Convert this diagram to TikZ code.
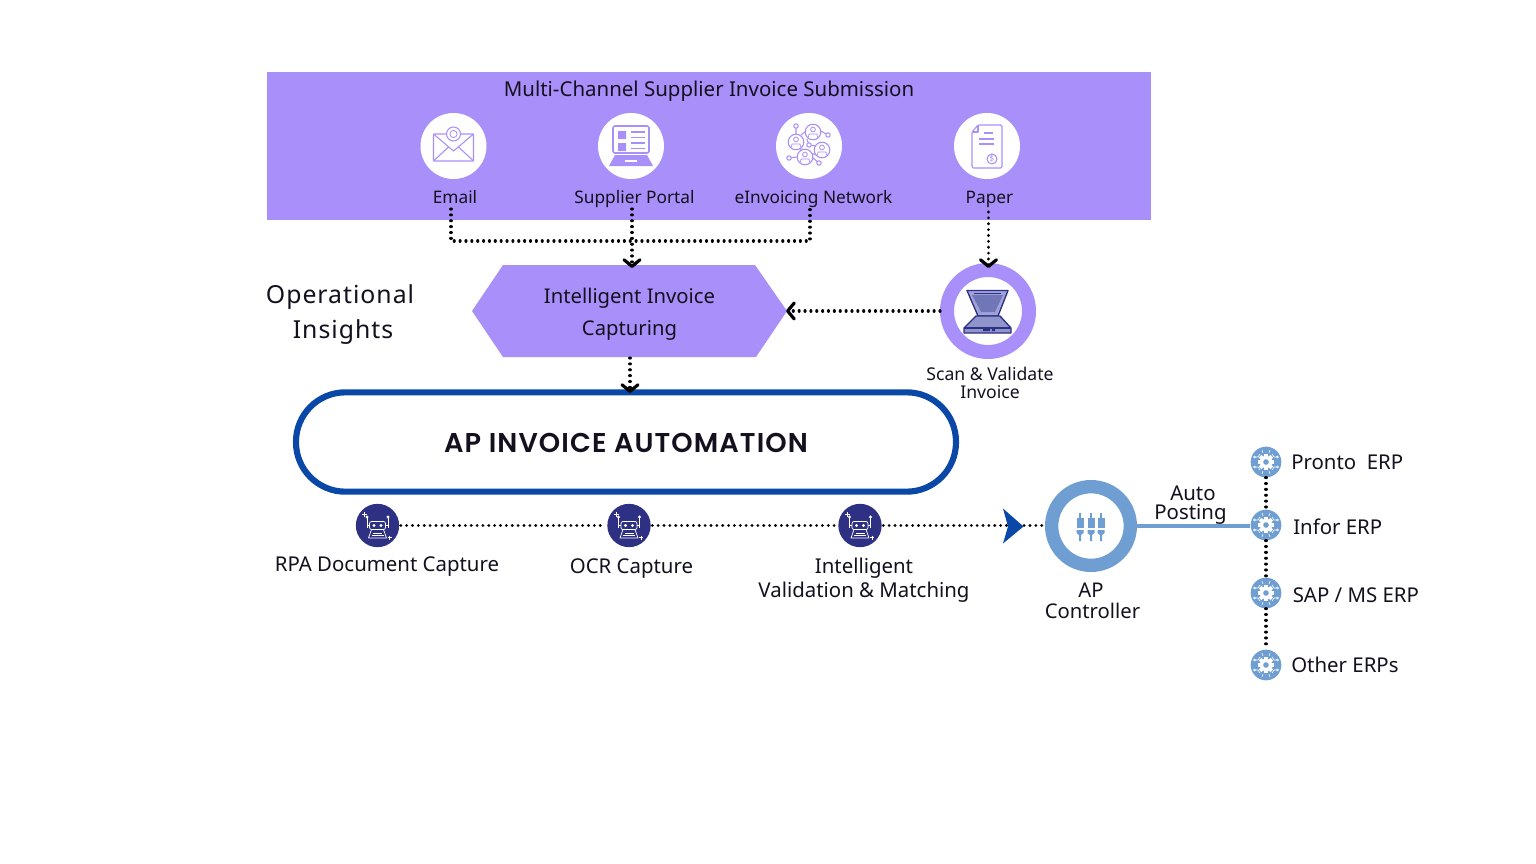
\documentclass[tikz,border=0pt]{standalone}
\usepackage{fontspec}
\setmainfont{Noto Sans}
\newfontfamily\titlefont[LetterSpace=4]{Poppins SemiBold}
\usetikzlibrary{arrows.meta,calc}
\definecolor{purp}{HTML}{A98FFA}
\definecolor{navy}{HTML}{2E3084}
\definecolor{ringblue}{HTML}{6F9FD2}
\definecolor{deepblue}{HTML}{0A48A8}
\definecolor{ink}{HTML}{14101E}
\definecolor{lidc}{HTML}{7076B8}
\definecolor{lidl}{HTML}{A0A3D8}
\definecolor{basec}{HTML}{9094CC}
\tikzset{
  x=0.75pt,y=-0.75pt,
  dotline/.style={draw=black,line width=2.3pt,line cap=round,dash pattern=on 0.05pt off 4.35pt},
  chev/.style={-{Straight Barb[length=5pt,width=12pt,line width=2.4pt,round]}},
  lbl/.style={text=ink,inner sep=0pt,text height=0.73em,text depth=0.2em,yshift=-3pt,font=\fontsize{12.95}{15}\selectfont},
  lblb/.style={lbl,font=\fontsize{15.3}{18}\selectfont},
  lblc/.style={lbl,font=\fontsize{15.2}{18}\selectfont},
  lblo/.style={lbl,yshift=-1pt,font=\fontsize{18.6}{26}\selectfont\addfontfeature{LetterSpace=4}},
  disc/.style={circle,fill=white,minimum size=49.5pt,inner sep=0pt},
  robotdisc/.style={circle,fill=navy,minimum size=32.5pt,inner sep=0pt},
  gearnode/.style={circle,fill=ringblue,minimum size=23pt,inner sep=0pt},
  ic/.style={draw=purp,line width=0.8pt,line join=round},
  pics/roboticon/.style={code={
    \begin{scope}[draw=white,line width=0.55pt,line join=round]
      \draw[rounded corners=1.5pt] (-8,-4) rectangle (8,4);
      \fill[white] (-3.5,0) circle (1.6) (3.5,0) circle (1.6);
      \draw (-10.5,2) -- (-10.5,-8) (10.5,2) -- (10.5,-8) (-10.5,0) -- (-8,0) (10.5,0) -- (8,0);
      \fill[white] (-10.5,-8.5) circle (1.7) (10.5,-8.5) circle (1.7);
      \draw (-9,12.5) -- (-6,4) -- (6,4) -- (9,12.5) -- cycle;
      \draw (-4.5,7.5) -- (4.5,7.5) (-6,10) -- (6,10);
      \draw (-13,-14) -- (-13,-9) (-15.5,-11.5) -- (-10.5,-11.5);
      \draw (12,10) -- (12,14) (10,12) -- (14,12);
    \end{scope}}},
  pics/gearicon/.style={code={
    \foreach \a in {0,45,...,315}{
      \fill[white,rotate=\a] (-1.8,-8.2) rectangle (1.8,-4);}
    \fill[white] (0,0) circle (6.2);
    \fill[ringblue] (0,0) circle (2.8);
    \begin{scope}[draw=white,line width=0.45pt]
      \draw (-11,-5) -- (-8,-5) -- (-6,-8) (11,-5) -- (8,-5) -- (6,-8);
      \draw (-11,5) -- (-8,5) -- (-6,8) (11,5) -- (8,5) -- (6,8);
      \draw (-4,-12) -- (-3,-9) (4,-12) -- (3,-9) (-4,12) -- (-3,9) (4,12) -- (3,9);
      \draw (-11.5,-5) circle (1) (11.5,-5) circle (1) (-11.5,5) circle (1) (11.5,5) circle (1);
    \end{scope}}},
}
\begin{document}
\begin{tikzpicture}
\useasboundingbox (0,0) rectangle (1536,864);
\fill[white] (0,0) rectangle (1536,864);

% top band
\fill[purp] (267,72) rectangle (1151,220);
\node[lbl,font=\fontsize{15.35}{18}\selectfont] (title) at (709,89) {Multi-Channel Supplier Invoice Submission};

\node[disc] (dEmail) at (453.5,146) {};
\node[disc] (dPortal) at (631,146) {};
\node[disc] (dNet) at (809,146) {};
\node[disc] (dPaper) at (987,146) {};

% envelope
\begin{scope}[shift={(453.5,146)}]
  \draw[ic,rounded corners=0.5pt] (-20,-12) -- (20,-12) -- (20,15) -- (-20,15) -- cycle;
  \draw[ic] (-20,-12) -- (0,5) -- (20,-12) (-20,15) -- (-5,1) (20,15) -- (5,1);
  \fill[white] (0,-12) circle (7.5);
  \draw[ic] (0,-12) circle (7);
  \draw[ic,line width=0.6pt] (0,-12) circle (3.6);
\end{scope}
% laptop
\begin{scope}[shift={(631,146)}]
  \draw[ic,line width=1.2pt,rounded corners=1.5pt] (-18,-20) rectangle (18,7);
  \fill[purp] (-13,-15) rectangle (-5,-7) (-13,-3) rectangle (-5,5);
  \draw[ic] (0,-14) -- (14,-14) (0,-8.5) -- (14,-8.5) (0,-3) -- (14,-3) (0,2.5) -- (14,2.5);
  \fill[purp] (-16,9) -- (16,9) -- (22,20) -- (-22,20) -- cycle;
  \draw[white,line width=0.9pt] (-6,15) -- (6,15);
\end{scope}
% network
\begin{scope}[shift={(0,0)}]
  \draw[ic] (796,126) -- (796,134) (821,131) -- (828,135) (807,139) -- (809,145) -- (816,146)
            (789,158) -- (797,157) (813,158) -- (819,163) (806,131) -- (801,135) (811,153) -- (816,155) (800,150) -- (803,149);
  \foreach \p in {(813,132),(796,142),(822,150),(805,157)}{
    \fill[white] \p circle (8.2);
    \draw[ic] \p circle (7.8);}
  \foreach \p/\q in {813/132,796/142,822/150,805/157}{
    \draw[ic,line width=0.6pt] (\p,\q-2.5) circle (2.4);
    \draw[ic,line width=0.6pt] (\p-4.5,\q+5) -- (\p-4,\q+2) -- (\p+4,\q+2) -- (\p+4.5,\q+5);}
  \foreach \p in {(796,126),(828,135),(809,145),(789,158),(819,163)}{
    \fill[white] \p circle (2.4);
    \draw[ic] \p circle (2.2);}
\end{scope}
% paper
\begin{scope}[shift={(987,146)}]
  \draw[ic,rounded corners=1pt] (-9,-21) -- (15,-21) -- (15,22) -- (-15,22) -- (-15,-14) -- cycle;
  \draw[ic] (-15,-14) -- (-9,-14) -- (-9,-21);
  \draw[ic] (-3,-13) -- (6,-13) (-8,-7) -- (7,-7) (-8,-2) -- (7,-2);
  \draw[ic] (5,13) circle (5);
  \node[text=purp,inner sep=0pt,font=\fontsize{6}{6}\selectfont] (dollar) at (5,13) {\$};
\end{scope}

\node[lbl] (lEmail) at (455,195.5) {Email};
\node[lbl] (lPortal) at (634.5,195.5) {Supplier Portal};
\node[lbl] (lNet) at (813.5,195.5) {eInvoicing Network};
\node[lbl] (lPaper) at (989.5,195.5) {Paper};

% hexagon
\fill[purp] (472,311) -- (503,265) -- (755,265) -- (787,311) -- (756,357) -- (503,357) -- cycle;
\node[minimum width=236pt,minimum height=69pt,inner sep=0pt] (hex) at (629.5,311) {};
\node[lblc] (hexa) at (629.5,295.5) {Intelligent Invoice};
\node[lblc] (hexb) at (629.5,328) {Capturing};

% operational insights
\node[lblo] (op1) at (340,295) {Operational};
\node[lblo] (op2) at (343,330) {Insights};

% scanner
\node[circle,draw=purp,line width=10.5pt,fill=white,minimum size=61.5pt,inner sep=0pt] (scan) at (988,311) {};
\begin{scope}[draw=navy,line width=1pt,line join=round]
  \filldraw[fill=lidl] (967,290.5) -- (1008,290.5) -- (998,316) -- (978,316) -- cycle;
  \fill[lidc] (972,295) -- (1003,295) -- (995,312) -- (981,312) -- cycle;
  \filldraw[fill=basec] (976,316) -- (1000,316) -- (1011,328) -- (1011,333) -- (964,333) -- (964,328) -- cycle;
  \draw (964,328) -- (1011,328);
  \fill[navy] (983,328.5) rectangle (990,331) (992,328.5) rectangle (995,331);
  \draw[line width=0.6pt] (974,293) -- (1001,293);
\end{scope}
\node[lbl,font=\fontsize{13.2}{15}\selectfont] (lScan) at (990,373) {Scan \& Validate};
\node[lbl,font=\fontsize{13.2}{15}\selectfont] (lScanb) at (990,391) {Invoice};

% pill
\node[draw=deepblue,fill=white,line width=4.6pt,minimum width=495pt,minimum height=74.5pt,rounded corners=37pt,inner sep=0pt] (pill) at (626,442) {};
\node[inner sep=0pt,text=ink,font=\fontsize{20.4}{24}\selectfont\titlefont] (pillText) at (626,443) {AP INVOICE AUTOMATION};

% robots
\node[robotdisc] (r1) at (377.5,525.5) {};
\node[robotdisc] (r2) at (629,525.5) {};
\node[robotdisc] (r3) at (860,525.5) {};
\pic at (377.5,525.5) {roboticon};
\pic at (629,525.5) {roboticon};
\pic at (860,525.5) {roboticon};
\node[lblb] (lr1) at (387,564) {RPA Document Capture};
\node[lblb] (lr2) at (631.5,566) {OCR Capture};
\node[lblb] (lr3) at (864,566) {Intelligent};
\node[lblb] (lr3b) at (864,590) {Validation \& Matching};

% controller
\node[circle,draw=ringblue,line width=10pt,fill=white,minimum size=59pt,inner sep=0pt] (ctrl) at (1091,526) {};
\begin{scope}[fill=ringblue]
  \foreach \x in {1080,1091,1101}{
    \fill (\x-1,513) rectangle (\x+1,518);
    \fill (\x-3.5,518) rectangle (\x+3.5,528);
    \fill (\x-3.5,530) -- (\x+3.5,530) -- (\x+3.5,533) -- (\x+1,535) -- (\x+1,541) -- (\x-1,541) -- (\x-1,535) -- (\x-3.5,533) -- cycle;}
\end{scope}
\node[lblc] (lCtrl) at (1091,590) {AP};
\node[lblc] (lCtrlb) at (1092.5,611) {Controller};

% ERP
\node[gearnode] (e1) at (1266,462) {};
\node[gearnode] (e2) at (1266,525) {};
\node[gearnode] (e3) at (1266,593) {};
\node[gearnode] (e4) at (1266,665) {};
\foreach \n in {e1,e2,e3,e4}{\pic at (\n) {gearicon};}
\node[lblb,anchor=west] (le1) at (1291,462) {Pronto\ \ ERP};
\node[lblb,anchor=west] (le2) at (1293,527) {Infor ERP};
\node[lblb,anchor=west] (le3) at (1292.5,595) {SAP / MS ERP};
\node[lblb,anchor=west] (le4) at (1291,665) {Other ERPs};
\node[lblb] (auto1) at (1193,493) {Auto};
\node[lblb] (auto2) at (1190.5,512) {Posting};

% connectors
\coordinate (emailOut) at (451,209);
\coordinate (portalOut) at (632,209);
\coordinate (netOut) at (810,209);
\coordinate (paperOut) at (988.5,212);
\coordinate (hexIn) at (632,268);
\coordinate (scanIn) at (988.5,268);
\coordinate (busL) at (451,241);
\coordinate (busR) at (810,241);
\coordinate (hexOut) at (630,358);
\coordinate (pillIn) at (630,393);
\coordinate (hexEast) at (786,311);

\draw[dotline] (emailOut) -- (busL) -- (busR) -- (netOut);
\draw[dotline,chev] (portalOut) -- (hexIn);
\draw[dotline,chev] (paperOut) -- (scanIn);
\draw[dotline,chev] (scan) -- (hexEast);
\draw[dotline,chev] (hexOut) -- (pillIn);
\draw[dotline,shorten <=1pt,shorten >=1pt] (r1) -- (r2);
\draw[dotline,shorten <=1pt,shorten >=1pt] (r2) -- (r3);
\draw[dotline,shorten <=1pt] (r3) -- (r3 -| ctrl.west);
\fill[deepblue] (1003,508.5) -- (1023.5,526.5) -- (1003,543.5) -- (1008,526.5) -- cycle;
\draw[ringblue,line width=2.8pt] (ctrl) -- (ctrl -| e2.west);
\draw[dotline] (e1) -- (e2);
\draw[dotline] (e2) -- (e3);
\draw[dotline] (e3) -- (e4);
\end{tikzpicture}
\end{document}
